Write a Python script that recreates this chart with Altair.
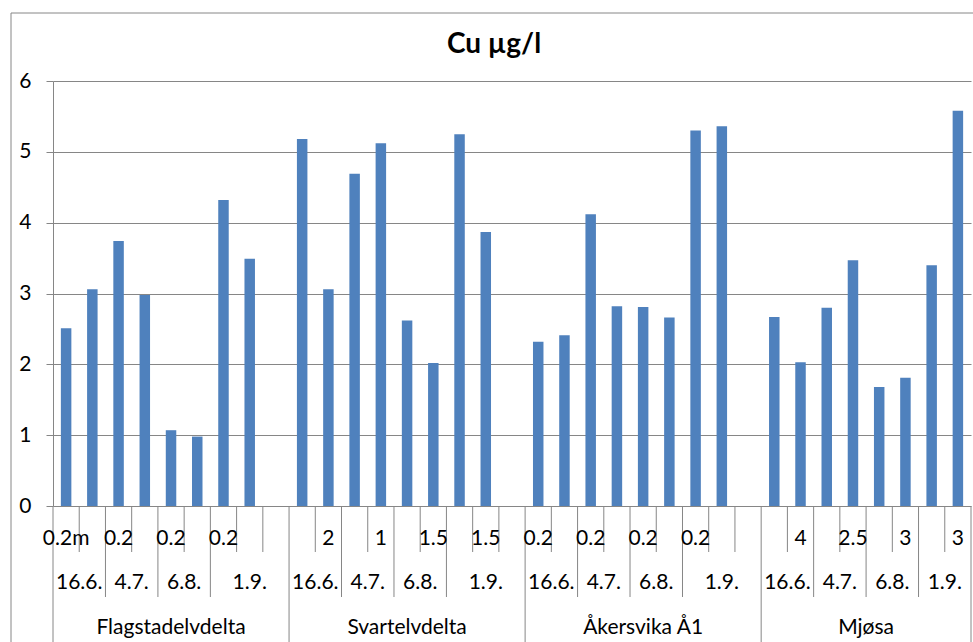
import altair as alt
import pandas as pd

# Category hierarchy: site -> sampling date -> depth (m)
groups = ["Flagstadelvdelta", "Svartelvdelta", "Åkersvika Å1", "Mjøsa"]

group_dates = [
    ["16.6.", "16.6.", "4.7.", "4.7.", "6.8.", "6.8.", "1.9.", "1.9.", "1.9."],
    ["16.6.", "16.6.", "4.7.", "4.7.", "6.8.", "6.8.", "1.9.", "1.9.", "1.9."],
    ["16.6.", "16.6.", "4.7.", "4.7.", "6.8.", "6.8.", "1.9.", "1.9.", "1.9."],
    ["16.6.", "16.6.", "4.7.", "4.7.", "6.8.", "6.8.", "1.9.", "1.9."],
]

group_depths = [
    ["0.2m", "", "0.2", "", "0.2", "", "0.2", "", ""],
    ["", "2", "", "1", "", "1.5", "", "1.5", ""],
    ["0.2", "", "0.2", "", "0.2", "", "0.2", "", ""],
    ["", "4", "", "2.5", "", "3", "", "3"],
]

# Cu concentration, µg/l (None = no sample)
group_values = [
    [2.51, 3.06, 3.74, 2.98, 1.07, 0.98, 4.32, 3.49, None],
    [5.18, 3.06, 4.69, 5.12, 2.62, 2.02, 5.25, 3.87, None],
    [2.32, 2.41, 4.12, 2.82, 2.81, 2.66, 5.30, 5.36, None],
    [2.67, 2.03, 2.80, 3.47, 1.68, 1.81, 3.40, 5.58],
]

y_ticks = [0, 1, 2, 3, 4, 5, 6]
title_text = "Cu µg/l"

BAR = "#4F81BD"
GRID = "#868686"
FONT = "Lato"
FS = 21

# ---- build tables -------------------------------------------------------
bars, depth_lab, date_lab, group_lab = [], [], [], []
group_bounds, date_bounds = [], []
slot = 0
for g, dts, dps, vals in zip(groups, group_dates, group_depths, group_values):
    start = slot
    group_bounds.append(start)
    run_start = slot
    for i, (d, dp, v) in enumerate(zip(dts, dps, vals)):
        s = slot + i
        if v is not None:
            bars.append({"slot": s, "value": v, "site": g, "date": d})
        depth_lab.append({"pos": s + 0.5, "label": dp})
        if i > 0 and d != dts[i - 1]:
            date_lab.append({"pos": (run_start + s) / 2, "label": dts[i - 1]})
            date_bounds.append(s)
            run_start = s
    slot += len(dts)
    date_lab.append({"pos": (run_start + slot) / 2, "label": dts[-1]})
    group_lab.append({"pos": (start + slot) / 2, "label": g})
group_bounds.append(slot)
n_slots = slot
depth_bounds = [b for b in range(1, n_slots) if b not in group_bounds and b not in date_bounds]

bars_df = pd.DataFrame(bars)
xs = alt.Scale(domain=[0, n_slots], nice=False, zero=False)
ys = alt.Scale(domain=[0, 6], nice=False)

W, H = 918, 425

bar_layer = alt.Chart(bars_df).transform_calculate(
    x0="datum.slot + 0.3", x1="datum.slot + 0.7"
).mark_bar(color=BAR).encode(
    x=alt.X("x0:Q", scale=xs, axis=None),
    x2="x1:Q",
    y=alt.Y(
        "value:Q",
        scale=ys,
        axis=alt.Axis(
            values=y_ticks, grid=True, gridColor=GRID, gridWidth=1,
            domainColor=GRID, tickColor=GRID, tickSize=7,
            labelFont=FONT, labelFontSize=FS, labelColor="black",
            labelPadding=15, title=None,
        ),
    ),
    y2=alt.datum(0),
)


def rules(bounds, bottom):
    return alt.Chart(pd.DataFrame({"b": bounds})).mark_rule(
        color=GRID, strokeWidth=1
    ).encode(
        x=alt.X("b:Q", scale=xs, axis=None),
        y=alt.value(H),
        y2=alt.value(bottom),
    )


def labels(rows, ypix):
    return alt.Chart(pd.DataFrame(rows)).mark_text(
        font=FONT, fontSize=FS, color="black", baseline="middle", align="center"
    ).encode(
        x=alt.X("pos:Q", scale=xs, axis=None),
        y=alt.value(ypix),
        text="label:N",
    )


frame = alt.Chart(pd.DataFrame({"k": [0]}))
border_top = frame.mark_rule(color=GRID).encode(
    x=alt.value(-42), x2=alt.value(940), y=alt.value(-68)
)
border_left = frame.mark_rule(color=GRID).encode(
    x=alt.value(-42), y=alt.value(-68), y2=alt.value(600)
)
title_layer = alt.Chart(pd.DataFrame({"t": [title_text]})).mark_text(
    font=FONT, fontSize=28, fontWeight="bold", color="black",
    baseline="middle", align="center",
).encode(x=alt.value(441), y=alt.value(-36), text="t:N")

chart = alt.layer(
    border_top,
    border_left,
    bar_layer,
    rules(depth_bounds, 471),
    rules(date_bounds, 516),
    rules(group_bounds, 600),
    labels(depth_lab, 458),
    labels(date_lab, 502),
    labels(group_lab, 547),
    title_layer,
).properties(
    width=W,
    height=H,
    padding={"left": 53, "top": 81, "right": 2, "bottom": 136},
    autosize=alt.AutoSizeParams(type="none"),
).configure_view(stroke=None)

chart.save("out.html", embed_options={"renderer": "svg", "actions": False})
